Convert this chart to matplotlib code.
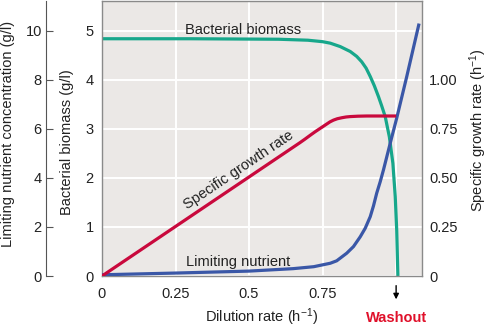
import matplotlib.pyplot as plt
import matplotlib

plt.rcParams['font.family'] = ['Liberation Sans', 'DejaVu Sans']
plt.rcParams['mathtext.default'] = 'regular'
plt.rcParams['font.size'] = 10.5

# Bacterial biomass (g/l) vs dilution rate
biomass_d = [0, 0.3, 0.6, 0.7, 0.75, 0.776, 0.81, 0.844, 0.866, 0.883, 0.898, 0.912, 0.926,
             0.94, 0.951, 0.963, 0.977, 0.989, 0.997, 1.002, 1.006]
biomass = [4.84, 4.84, 4.83, 4.81, 4.78, 4.75, 4.68, 4.58, 4.48, 4.37, 4.24, 4.07, 3.88,
           3.66, 3.47, 3.25, 2.84, 2.30, 1.62, 0.94, 0]

# Specific growth rate (h-1)
growth_d = [0, 0.673, 0.69, 0.71, 0.725, 0.741, 0.755, 0.765, 0.775, 0.787, 0.80, 0.815,
            0.83, 0.844, 0.87, 0.9, 1.0]
growth = [0, 0.68, 0.698, 0.72, 0.736, 0.752, 0.766, 0.776, 0.786, 0.795, 0.802, 0.807,
          0.811, 0.813, 0.815, 0.816, 0.816]

# Limiting nutrient concentration (g/l)
nutrient_d = [0, 0.25, 0.5, 0.65, 0.72, 0.776, 0.798, 0.832, 0.855, 0.878, 0.895, 0.912,
              0.923, 0.934, 0.946, 0.957, 0.98, 1.002, 1.036, 1.078]
nutrient = [0.05, 0.12, 0.2, 0.3, 0.38, 0.52, 0.62, 0.93, 1.2, 1.6, 1.95, 2.42,
            2.86, 3.38, 3.85, 4.33, 5.42, 6.44, 8.13, 10.3]

x_ticks = [0, 0.25, 0.5, 0.75, 1.0]
x_labels = ['0', '0.25', '0.5', '0.75', '']
biomass_ticks = [0, 1, 2, 3, 4, 5]
nutrient_ticks = [0, 2, 4, 6, 8, 10]
growth_ticks = [0, 0.25, 0.5, 0.75, 1.0]
growth_labels = ['0', '0.25', '0.50', '0.75', '1.00']

fig = plt.figure(figsize=(4.88, 3.28), dpi=100)
ax = fig.add_axes([102 / 488, 1 - 276 / 328, 320 / 488, 275 / 328])
ax.set_facecolor('#ebe8e6')
ax.set_xlim(0, 1.088)
ax.set_ylim(0, 5.61)
ax.set_xticks(x_ticks)
ax.set_xticklabels(x_labels)
ax.set_yticks(biomass_ticks)
ax.tick_params(length=0, colors='#222222')
ax.tick_params(axis='x', pad=8)
ax.tick_params(axis='y', pad=6)
ax.grid(color='white', lw=1.4)
ax.set_axisbelow(True)
for s in ax.spines.values():
    s.set_color('#8a8a8a')
    s.set_linewidth(1)

ax.plot(biomass_d, biomass, color='#17a78b', lw=2.3, solid_capstyle='butt')

# nutrient axis on the far left
ax_n = ax.twinx()
ax_n.set_ylim(0, 11.22)
ax_n.yaxis.set_ticks_position('left')
ax_n.spines['left'].set_position(('axes', -56 / 320))
ax_n.spines['left'].set_color('#555555')
for side in ['right', 'top', 'bottom']:
    ax_n.spines[side].set_visible(False)
ax_n.set_yticks(nutrient_ticks)
ax_n.tick_params(axis='y', direction='in', length=5, pad=3, colors='#222222')
ax_n.tick_params(axis='y', color='#555555')
ax_n.plot(nutrient_d, nutrient, color='#3a57a7', lw=2.3, solid_capstyle='butt')

# growth rate axis on the right
ax_r = ax.twinx()
ax_r.set_ylim(0, 1.4025)
for s in ax_r.spines.values():
    s.set_visible(False)
ax_r.set_yticks(growth_ticks)
ax_r.set_yticklabels(growth_labels)
ax_r.tick_params(axis='y', length=0, pad=5, colors='#222222')
ax_r.plot(growth_d, growth, color='#c9093d', lw=2.3, solid_capstyle='butt')

# curve labels
ax.text(0.48, 5.02, 'Bacterial biomass', ha='center', va='center', color='#222222')
ax.text(0.463, 2.16, 'Specific growth rate', ha='center', va='center', rotation=34,
        color='#222222', rotation_mode='anchor')
ax.text(0.463, 0.29, 'Limiting nutrient', ha='center', va='center', color='#222222')

# axis titles
fig.text(8 / 488, 1 - 134 / 328, 'Limiting nutrient concentration (g/l)', rotation=90,
         ha='center', va='center', color='#222222')
fig.text(67 / 488, 1 - 142 / 328, 'Bacterial biomass (g/l)', rotation=90,
         ha='center', va='center', color='#222222')
fig.text(478 / 488, 1 - 130 / 328, 'Specific growth rate (h$^{-1}$)', rotation=90,
         ha='center', va='center', color='#222222')
fig.text(262 / 488, 1 - 317 / 328, 'Dilution rate (h$^{-1}$)', ha='center', va='center',
         color='#222222')
fig.text(397 / 488, 1 - 318 / 328, 'Washout', ha='center', va='center',
         color='#e0102a', fontweight='bold')

# washout arrow
ax.annotate('', xy=(1.0, -0.095), xytext=(1.0, -0.025),
            xycoords=ax.get_xaxis_transform(), textcoords=ax.get_xaxis_transform(),
            arrowprops=dict(arrowstyle='-|>', color='black', lw=1, mutation_scale=8),
            annotation_clip=False)

fig.savefig('out.png', dpi=100)
